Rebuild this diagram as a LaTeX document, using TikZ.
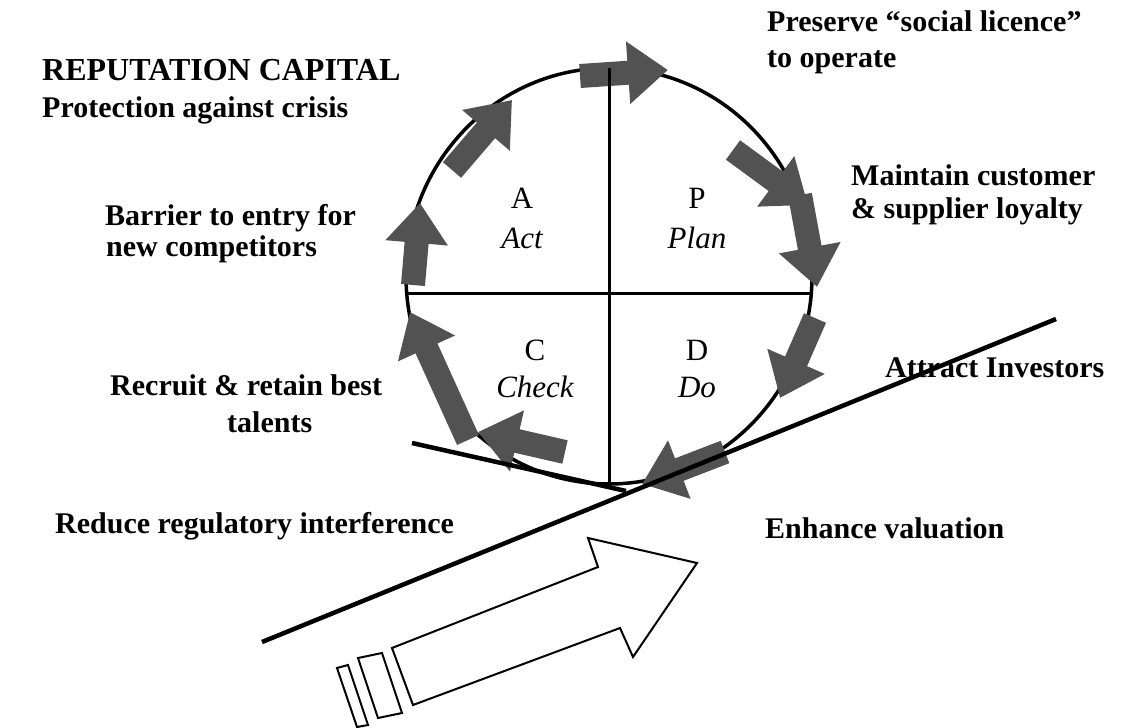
\documentclass[tikz,border=0pt]{standalone}
\usepackage{fontspec}
\setmainfont{Liberation Serif}
\usetikzlibrary{arrows.meta}
\definecolor{flowgrey}{RGB}{82,82,82}

\tikzset{
	lbl/.style={anchor=base west, inner sep=0pt, font=\fontsize{30}{33}\selectfont\bfseries},
	quad/.style={anchor=base, inner sep=0pt, font=\fontsize{31}{38}\selectfont},
	flow/.style={draw=flowgrey, line width=24pt, -{Triangle[length=40pt, width=60pt]}},
}

\begin{document}
\begin{tikzpicture}[x=1pt, y=1pt, yscale=-1, draw=black]
	\useasboundingbox (0,0) rectangle (1135,728);
	% the cycle
	\draw[line width=3.5pt] (609,276) ellipse [x radius=203, y radius=208];
	\foreach \xa/\ya/\xb/\yb in {580/76/668/70, 733/150/808/205, 800/195/817/287,
		815/318/780/398, 725/452/642/484, 565/452/478/432,
		468/440/410/312, 413/285/420/203, 452/170/512/100}
		\draw[flow] (\xa,\ya) -- (\xb,\yb);
	\draw[line width=3pt] (609,68) -- (609,484);
	\draw[line width=3pt] (407,293) -- (812,293);
	% quadrants
	\node[quad] (a)   at (522,208) {A};
	\node[quad] (act) at (522,248) {\itshape Act};
	\node[quad] (p)   at (697,208) {P};
	\node[quad] (pl)  at (697,248) {\itshape Plan};
	\node[quad] (c)   at (535,360) {C};
	\node[quad] (chk) at (535,397) {\itshape Check};
	\node[quad] (d)   at (697,360) {D};
	\node[quad] (do)  at (697,397) {\itshape Do};
	% tangents
	\draw[line width=4.5pt] (412,443) -- (626,491);
	\draw[line width=4.5pt] (262,642) -- (1056,319);
	% push arrow
	\draw[line width=2pt, line join=miter] (392,648) -- (598,567) -- (588,538) -- (697,563)
		-- (633,657) -- (620,628) -- (413,705) -- cycle;
	\draw[line width=2pt] (358,658) -- (382,653) -- (402,713) -- (378,718) -- cycle;
	\draw[line width=2pt] (337,668) -- (348,665) -- (368,725) -- (357,727) -- cycle;
	% benefits
	\node[lbl, font=\fontsize{32}{33}\selectfont\bfseries] (rc) at (42,80) {REPUTATION CAPITAL};
	\node[lbl] (prot)  at (42,117)  {Protection against crisis};
	\node[lbl] (pres)  at (767,31)  {Preserve “social licence”};
	\node[lbl] (oper)  at (767,67)  {to operate};
	\node[lbl] (main)  at (851,185) {Maintain customer};
	\node[lbl] (loyal) at (851,218) {\& supplier loyalty};
	\node[lbl] (barr)  at (105,225) {Barrier to entry for};
	\node[lbl] (comp)  at (106,256) {new competitors};
	\node[lbl] (recr)  at (110,395) {Recruit \& retain best};
	\node[lbl] (tal)   at (227,432) {talents};
	\node[lbl] (inv)   at (885,377) {Attract Investors};
	\node[lbl] (reg)   at (55,533)  {Reduce regulatory interference};
	\node[lbl] (val)   at (765,538) {Enhance valuation};
\end{tikzpicture}
\end{document}
